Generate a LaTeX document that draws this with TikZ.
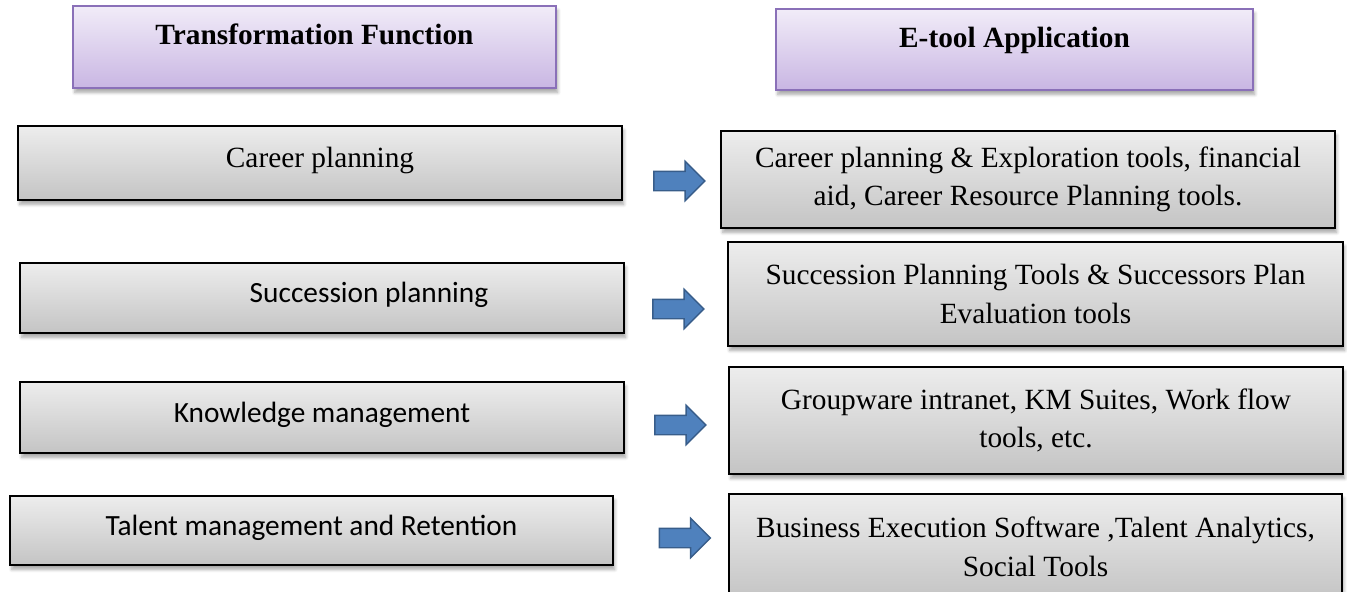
\documentclass[tikz,border=0pt]{standalone}
\usepackage{fontspec}
\setmainfont{Liberation Serif}
\newfontfamily\calibri{Carlito}
\usepackage{xcolor}
\usetikzlibrary{shapes.arrows,shadows.blur}

\definecolor{lavtop}{HTML}{F1ECF8}
\definecolor{lavbot}{HTML}{C9B6E3}
\definecolor{lavline}{HTML}{8A70B8}
\definecolor{graytop}{HTML}{EDEDED}
\definecolor{graybot}{HTML}{C4C4C4}
\definecolor{arrfill}{HTML}{4F81BD}
\definecolor{arrline}{HTML}{385D8A}

\begin{document}
\begin{tikzpicture}[x=0.02cm,y=-0.02cm,
	headbox/.style={draw=lavline,line width=1pt,top color=lavtop,bottom color=lavbot,
		blur shadow={shadow xshift=1pt,shadow yshift=-2.5pt,shadow blur steps=6,shadow opacity=35},
		inner sep=0pt,text depth=0.5cm,font=\fontsize{16.7}{22}\selectfont\bfseries},
	fnbox/.style={draw=black,line width=1.2pt,top color=graytop,bottom color=graybot,
		blur shadow={shadow xshift=1pt,shadow yshift=-2.5pt,shadow blur steps=6,shadow opacity=35},
		minimum width=12.08cm,inner sep=0pt,text depth=0.22cm,font=\fontsize{16.7}{22}\selectfont},
	toolbox/.style={draw=black,line width=1.2pt,top color=graytop,bottom color=graybot,
		blur shadow={shadow xshift=1pt,shadow yshift=-2.5pt,shadow blur steps=6,shadow opacity=35},
		inner sep=0pt,align=center,font=\fontsize{16.7}{22}\selectfont},
	blockarrow/.style={single arrow,draw=arrline,fill=arrfill,line width=0.8pt,
		inner sep=0.18cm,minimum height=1.02cm,single arrow head extend=0.2cm,
		single arrow tip angle=90}]

\useasboundingbox (0,0) rectangle (1347,592);

% headers
\node[headbox,minimum width=9.66cm,minimum height=1.64cm] (hfun) at (314.5,47) {Transformation Function};
\node[headbox,minimum width=9.54cm,minimum height=1.62cm] (htool) at (1014.5,49.5) {E-tool Application};

% transformation functions
\node[fnbox,minimum height=1.48cm] (career) at (320,163) {Career planning};
\node[fnbox,minimum height=1.40cm] (succ) at (322,298) {\calibri\hspace*{1.88cm}Succession planning};
\node[fnbox,minimum height=1.42cm] (know) at (322,417.5) {\calibri Knowledge management};
\node[fnbox,minimum width=12.06cm,minimum height=1.38cm] (talent) at (311.5,530.5) {\calibri Talent management and Retention};

% e-tools
\node[toolbox,minimum width=12.28cm,minimum height=1.94cm] (tcareer) at (1028,179.5)
	{Career planning \& Exploration tools, financial\\aid, Career Resource Planning tools.};
\node[toolbox,minimum width=12.30cm,minimum height=2.08cm] (tsucc) at (1035.5,294)
	{Succession Planning Tools \& Successors Plan\\Evaluation tools};
\node[toolbox,minimum width=12.28cm,minimum height=2.14cm] (tknow) at (1036,420.5)
	{Groupware intranet, KM Suites, Work flow\\tools, etc.};
\node[toolbox,minimum width=12.26cm,minimum height=2.12cm] (ttalent) at (1035.5,547)
	{Business Execution Software ,Talent Analytics,\\Social Tools};

% arrows
\node[blockarrow] (a1) at (674.5,181) {};
\node[blockarrow] (a2) at (673.5,309) {};
\node[blockarrow] (a3) at (675.5,425) {};
\node[blockarrow] (a4) at (680,538) {};

\end{tikzpicture}
\end{document}
